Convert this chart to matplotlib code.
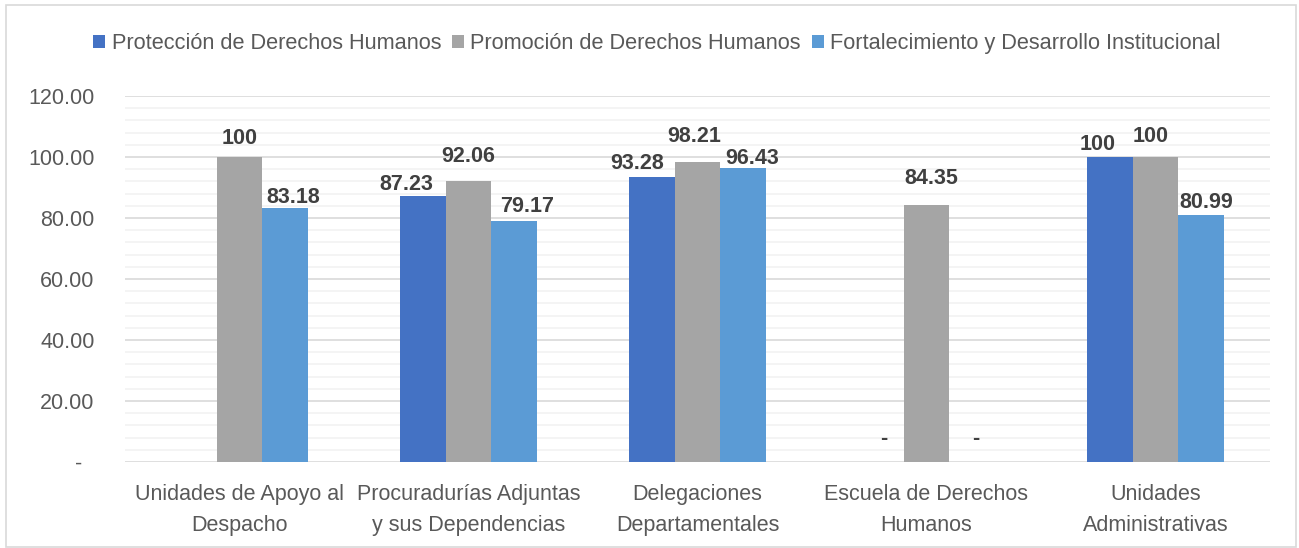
import matplotlib.pyplot as plt
import matplotlib.patches as mpatches
from matplotlib.ticker import MultipleLocator, FuncFormatter
import numpy as np

plt.rcParams['font.family'] = ['Liberation Sans', 'DejaVu Sans']

categories = ['Unidades de Apoyo al\nDespacho', 'Procuradurías Adjuntas\ny sus Dependencias',
              'Delegaciones\nDepartamentales', 'Escuela de Derechos\nHumanos',
              'Unidades\nAdministrativas']
series_names = ['Protección de Derechos Humanos', 'Promoción de Derechos Humanos',
                'Fortalecimiento y Desarrollo Institucional']
proteccion = [np.nan, 87.23, 93.28, 0, 100]
promocion = [100, 92.06, 98.21, 84.35, 100]
fortalecimiento = [83.18, 79.17, 96.43, 0, 80.99]
colors = ['#4472C4', '#A5A5A5', '#5B9BD5']

# label nudges in pixels (Excel moved them to avoid collisions)
label_dx = [[0, -16, -15, 3, -12], [0, 0, -3, 5, -5], [8, 13, 9, 3, 5]]
label_dy = [[0, 11, 14, 24, 12], [18, 25, 26, 26, 21], [11, 14, 9, 24, 12]]

fig = plt.figure(figsize=(12.99, 5.48), dpi=100)
ax = fig.add_axes([125/1299, 1-462/548, (1270-125)/1299, (462-96)/548])

# outer chart border
fig.patches.append(mpatches.Rectangle((6/1299, 0.002), 1290/1299, 1-5/548-0.002,
                                      transform=fig.transFigure, fill=False,
                                      edgecolor='#D9D9D9', linewidth=1.2))

x = np.arange(len(categories))
w = 0.2
pt = 0.72  # points per pixel at dpi 100
for i, (vals, name) in enumerate(zip([proteccion, promocion, fortalecimiento], series_names)):
    pos = x + (i-1)*w
    ax.bar(pos, vals, w, color=colors[i], label=name, zorder=3)
    for j, (px, v) in enumerate(zip(pos, vals)):
        if np.isnan(v):
            continue
        txt = '-' if v == 0 else ('%g' % v if v == int(v) else '%.2f' % v)
        ax.annotate(txt, (px, v), xytext=(label_dx[i][j]*pt, label_dy[i][j]*pt),
                    textcoords='offset points', ha='center', va='center',
                    fontsize=15.5, fontweight='bold', color='#404040', zorder=4)

ax.set_xlim(-0.5, len(categories)-0.5)
ax.set_ylim(0, 120)
ax.yaxis.set_major_locator(MultipleLocator(20))
ax.yaxis.set_minor_locator(MultipleLocator(4))
ax.yaxis.set_major_formatter(FuncFormatter(lambda v, p: '-  ' if v == 0 else '%.2f' % v))
ax.grid(axis='y', which='major', color='#D9D9D9', linewidth=1.2, zorder=0)
ax.grid(axis='y', which='minor', color='#F2F2F2', linewidth=1.2, zorder=0)
for s in ax.spines.values():
    s.set_visible(False)
ax.set_xticks(x)
ax.set_xticklabels(categories, linespacing=1.6)
ax.tick_params(axis='both', which='both', length=0, labelsize=15.5, labelcolor='#595959')
ax.tick_params(axis='y', pad=22)
ax.tick_params(axis='x', pad=16)

fig.legend(loc='center', bbox_to_anchor=(657/1299, 1-44/548), ncol=3, frameon=False,
           fontsize=15.7, handlelength=0.55, handleheight=0.55, handletextpad=0.3,
           columnspacing=0.5, labelcolor='#595959')

fig.savefig('out.png', dpi=100)
